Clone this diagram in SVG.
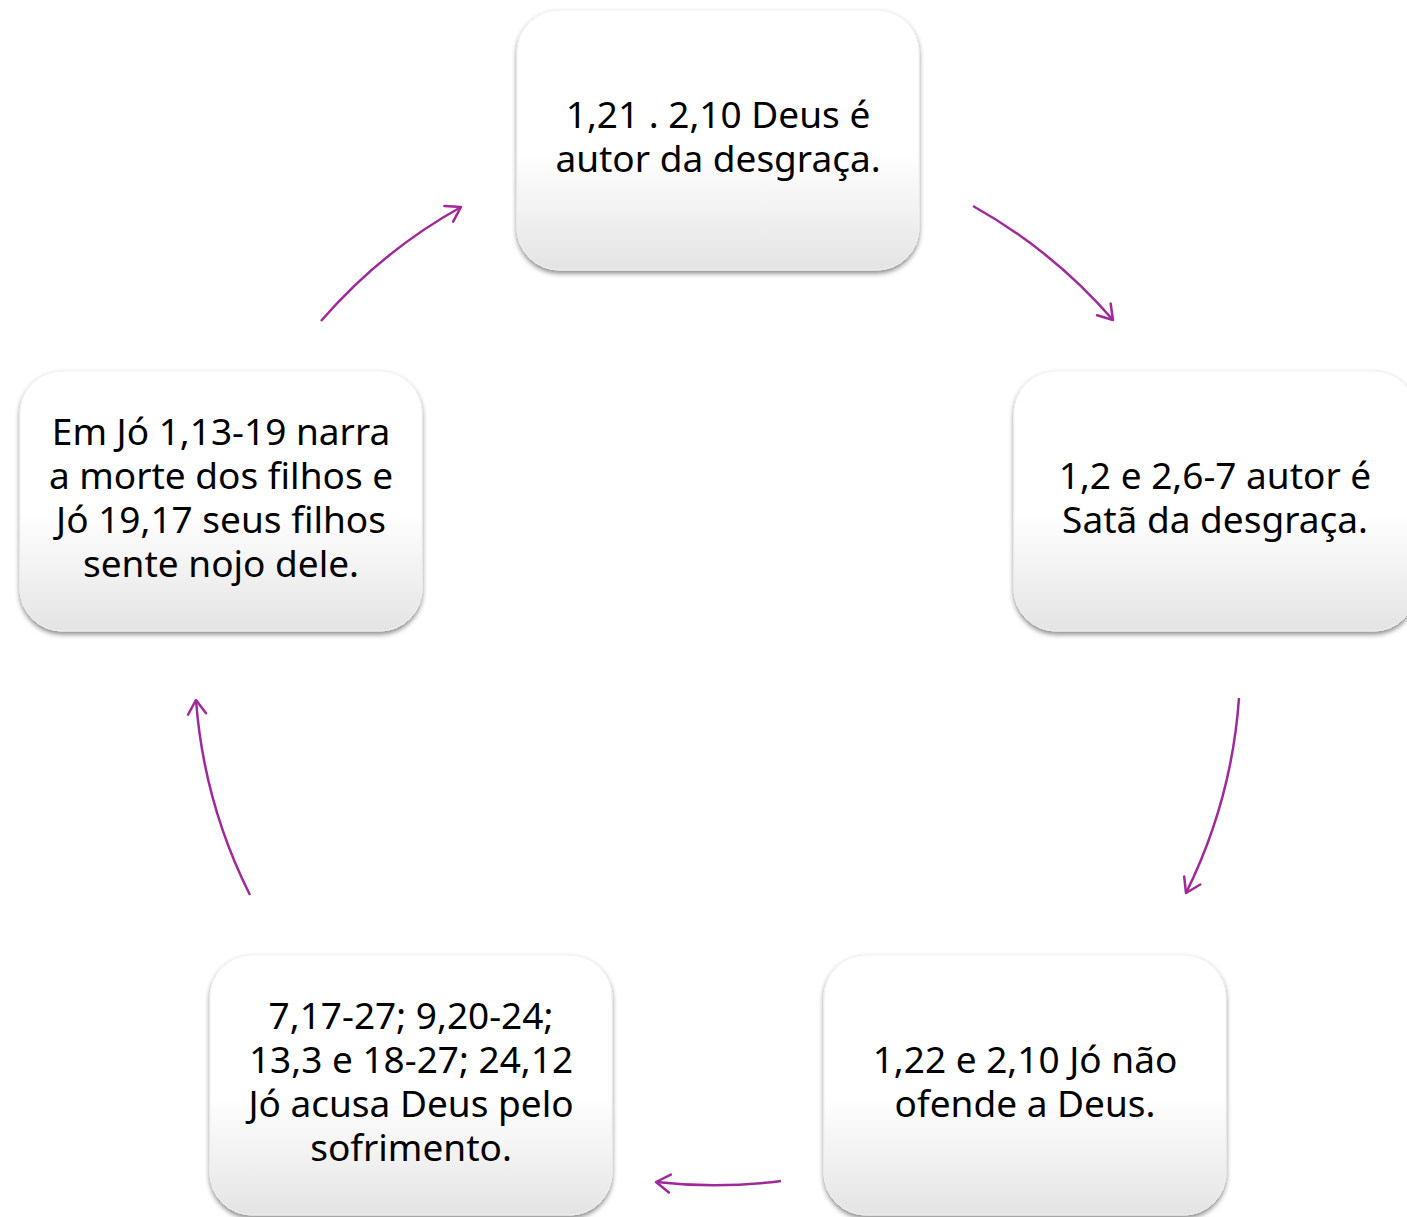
<svg xmlns="http://www.w3.org/2000/svg" width="1407" height="1217" viewBox="0 0 1407 1217">
<defs>
<linearGradient id="g" x1="0" y1="0" x2="0" y2="1">
<stop offset="0" stop-color="#ffffff"/>
<stop offset="0.55" stop-color="#ffffff"/>
<stop offset="1" stop-color="#e4e4e4"/>
</linearGradient>
<filter id="sh" x="-10%" y="-10%" width="120%" height="125%">
<feDropShadow dx="0" dy="3" stdDeviation="2.5" flood-color="#000" flood-opacity="0.45"/>
</filter>
<marker id="ah" markerWidth="30" markerHeight="30" refX="0" refY="0" viewBox="-20 -15 30 30" orient="auto" markerUnits="userSpaceOnUse">
<path d="M -14 -9 L 0 0 L -14 9" fill="none" stroke="#a0299a" stroke-width="2.5" stroke-linecap="round" stroke-linejoin="round"/>
</marker>
</defs>
<style>
.box{fill:url(#g);stroke:#f0f0f0;stroke-width:1;filter:url(#sh)}
.t{font-family:"Noto Sans","Open Sans",sans-serif;font-size:37px;fill:#000;text-anchor:middle}
.c{fill:none;stroke:#a0299a;stroke-width:2.5;marker-end:url(#ah)}
</style>
<rect width="1407" height="1217" fill="#fff"/>
<g id="connectors">
<path class="c" d="M 973 206 A 522 522 0 0 1 1113 320"/>
<path class="c" d="M 1239 698 A 522 522 0 0 1 1186 893"/>
<path class="c" d="M 781 1181 A 522 522 0 0 1 656 1182"/>
<path class="c" d="M 250 895 A 522 522 0 0 1 196 700"/>
<path class="c" d="M 321 321 A 522 522 0 0 1 461 207"/>
</g>
<g id="n1">
<rect class="box" x="517" y="10" width="402" height="260" rx="42"/>
<text class="t"><tspan x="718" y="128">1,21 . 2,10 Deus é</tspan><tspan x="718" y="172">autor da desgraça.</tspan></text>
</g>
<g id="n2">
<rect class="box" x="1014" y="371" width="402" height="260" rx="42"/>
<text class="t"><tspan x="1215" y="489">1,2 e 2,6-7 autor é</tspan><tspan x="1215" y="533">Satã da desgraça.</tspan></text>
</g>
<g id="n3">
<rect class="box" x="824" y="955" width="402" height="260" rx="42"/>
<text class="t"><tspan x="1025" y="1073">1,22 e 2,10 Jó não</tspan><tspan x="1025" y="1117">ofende a Deus.</tspan></text>
</g>
<g id="n4">
<rect class="box" x="210" y="955" width="402" height="260" rx="42"/>
<text class="t"><tspan x="411" y="1029">7,17-27; 9,20-24;</tspan><tspan x="411" y="1073">13,3 e 18-27; 24,12</tspan><tspan x="411" y="1117">Jó acusa Deus pelo</tspan><tspan x="411" y="1161">sofrimento.</tspan></text>
</g>
<g id="n5">
<rect class="box" x="20" y="371" width="402" height="260" rx="42"/>
<text class="t"><tspan x="221" y="445">Em Jó 1,13-19 narra</tspan><tspan x="221" y="489">a morte dos filhos e</tspan><tspan x="221" y="533">Jó 19,17 seus filhos</tspan><tspan x="221" y="577">sente nojo dele.</tspan></text>
</g>
</svg>
